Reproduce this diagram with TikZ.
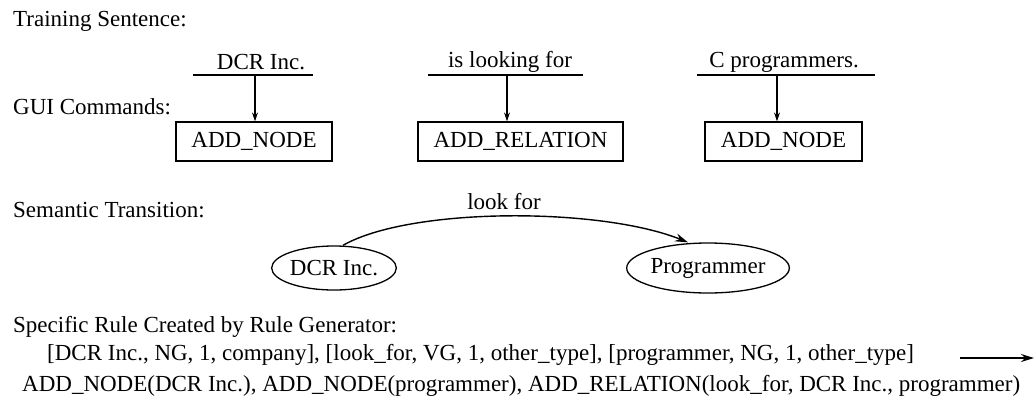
\documentclass[tikz,border=0pt]{standalone}
\usepackage{fontspec}
\setmainfont{Liberation Serif}
\usetikzlibrary{arrows.meta,shapes.geometric}
\begin{document}
\begin{tikzpicture}[x=1pt,y=-1pt,
  txt/.style={font=\fontsize{23}{27}\selectfont, inner sep=0pt},
  lbl/.style={txt, anchor=west},
  cmdbox/.style={draw, line width=1.3pt, txt, minimum height=39pt},
  ell/.style={draw, ellipse, line width=1.3pt, txt, inner sep=0pt},
  uline/.style={line width=1.5pt},
  varrow/.style={line width=1.1pt, -{Stealth[length=9pt,width=6pt]}},
  carrow/.style={line width=1.4pt, -{Stealth[length=13pt,width=8pt]}}]
\useasboundingbox (0,0) rectangle (1036,416);

% row labels
\node[lbl] (l1) at (13,21) {Training Sentence:};
\node[lbl] (l2) at (13,107) {GUI Commands:};
\node[lbl] (l3) at (13,210) {Semantic Transition:};
\node[lbl] (l4) at (13,327) {Specific Rule Created by Rule Generator:};

% sentence words
\node[txt] (w1) at (261,62) {DCR Inc.};
\node[txt] (w2) at (510,62) {is looking for};
\node[txt] (w3) at (784,62) {C programmers.};

\coordinate (u1l) at (193,75); \coordinate (u1r) at (313,75);
\coordinate (u2l) at (428,75); \coordinate (u2r) at (583,75);
\coordinate (u3l) at (697,75); \coordinate (u3r) at (875,75);
\draw[uline] (u1l) -- (u1r);
\draw[uline] (u2l) -- (u2r);
\draw[uline] (u3l) -- (u3r);

% GUI command boxes
\node[cmdbox, minimum width=156pt] (b1) at (254,141.5) {ADD\_NODE};
\node[cmdbox, minimum width=205pt] (b2) at (520.5,141.5) {ADD\_RELATION};
\node[cmdbox, minimum width=157pt] (b3) at (783.5,141.5) {ADD\_NODE};

\coordinate (a1) at (255,75);
\coordinate (a2) at (507,75);
\coordinate (a3) at (777,75);
\draw[varrow] (a1) -- (a1 |- b1.north);
\draw[varrow] (a2) -- (a2 |- b2.north);
\draw[varrow] (a3) -- (a3 |- b3.north);

% semantic transition
\node[ell, minimum width=115pt, minimum height=44pt] (e1) at (334,268) {DCR Inc.};
\node[ell, minimum width=157pt, minimum height=50pt] (e2) at (708,268) {Programmer};
\node[txt] (lf) at (504,202) {look for};
\draw[carrow] (e1.north) ++(9,0) coordinate (cs)
  (cs) .. controls (410,207) and (600,207) .. (e2.north -| 688,0);

% rule
\node[lbl] (r1) at (47,355) {[DCR Inc., NG, 1, company], [look\_for, VG, 1, other\_type], [programmer, NG, 1, other\_type]};
\coordinate (ra) at (960,358);
\coordinate (rb) at (1034,358);
\draw[carrow, line width=1.6pt] (ra) -- (rb);
\node[lbl] (r2) at (22,386) {ADD\_NODE(DCR Inc.), ADD\_NODE(programmer), ADD\_RELATION(look\_for, DCR Inc., programmer)};
\end{tikzpicture}
\end{document}
